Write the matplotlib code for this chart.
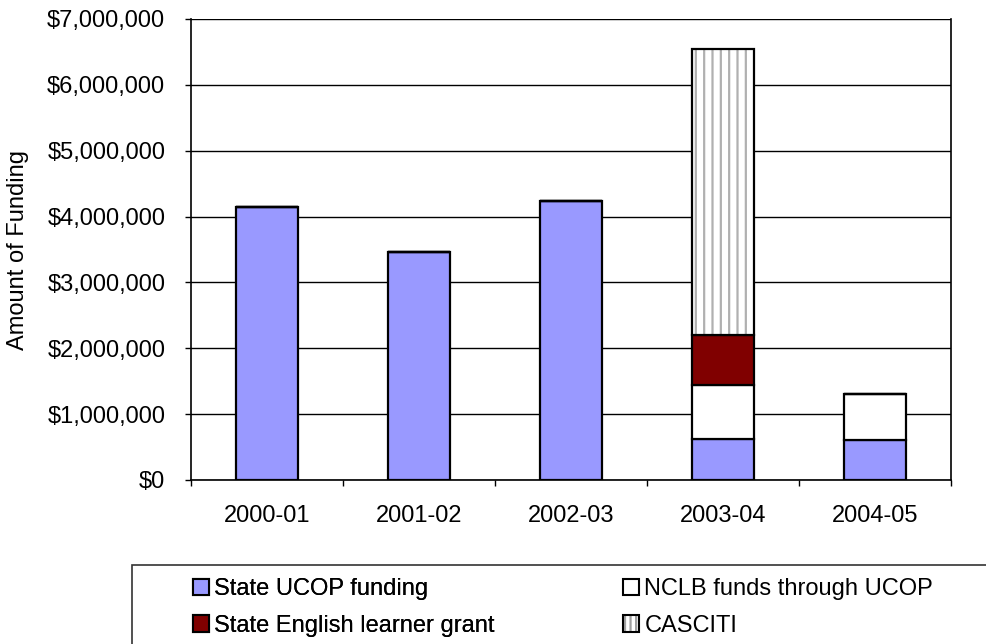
import matplotlib
matplotlib.use("Agg")
import matplotlib.pyplot as plt
from matplotlib.patches import Rectangle, Patch
from matplotlib.ticker import FuncFormatter, FixedLocator

plt.rcParams['font.family'] = ['Liberation Sans', 'DejaVu Sans']

years = ["2000-01", "2001-02", "2002-03", "2003-04", "2004-05"]
state_ucop = [4150000, 3460000, 4240000, 630000, 600000]
nclb = [0, 0, 0, 820000, 700000]
state_el = [0, 0, 0, 750000, 0]
casciti = [0, 0, 0, 4350000, 0]

FS = 17
W, H = 986, 644
fig = plt.figure(figsize=(9.86, 6.44), dpi=100)
ax = fig.add_axes([191/W, 1-480/H, (951-191)/W, (480-19)/H])

x = list(range(len(years)))
w = 0.41
lw = 1.6
ax.bar(x, state_ucop, w, color='#9999ff', edgecolor='black', linewidth=lw, zorder=3)
bottom2 = state_ucop
ax.bar(x, nclb, w, bottom=bottom2, color='white', edgecolor='black', linewidth=lw, zorder=3)
bottom3 = [a + b for a, b in zip(state_ucop, nclb)]
ax.bar(x, state_el, w, bottom=bottom3, color='#800000', edgecolor='black', linewidth=lw, zorder=3)
bottom4 = [a + b for a, b in zip(bottom3, state_el)]
plt.rcParams['hatch.linewidth'] = 1.6
ax.bar(x, casciti, w, bottom=bottom4, color='white', edgecolor='#b0b0b0', hatch='||', linewidth=0, zorder=3)
ax.bar(x, casciti, w, bottom=bottom4, fill=False, edgecolor='black', linewidth=lw, zorder=4)

ax.set_xlim(-0.5, 4.5)
ax.set_ylim(0, 7000000)
ax.set_yticks(range(0, 7000001, 1000000))
ax.yaxis.set_major_formatter(FuncFormatter(lambda v, p: f"${int(v):,}"))
ax.yaxis.grid(True, color='black', linewidth=1.0, zorder=0)
ax.set_axisbelow(True)
ax.set_xticks(x)
ax.set_xticklabels(years)
ax.tick_params(axis='x', which='major', length=0, pad=18, labelsize=FS)
ax.xaxis.set_minor_locator(FixedLocator([i + 0.5 for i in range(-1, 5)]))
ax.tick_params(axis='x', which='minor', length=4.5, width=1, direction='out')
ax.tick_params(axis='y', length=4.5, width=1, direction='out', labelsize=FS, pad=14)
ax.spines['top'].set_visible(False)
for s in ['left', 'bottom', 'right']:
    ax.spines[s].set_linewidth(1.2)

fig.text(18/W, 1 - 250/H, "Amount of Funding", rotation=90, ha='center', va='center', fontsize=FS)

# legend frame (box extends past the right and bottom figure edges)
fig.add_artist(Rectangle((132/W, -0.2), 1.0, (644 - 565)/H + 0.2, transform=fig.transFigure,
                         fill=False, edgecolor='#333333', linewidth=1.2))

h1 = Patch(facecolor='#9999ff', edgecolor='black', linewidth=1.5)
h2 = Patch(facecolor='white', edgecolor='black', linewidth=1.5)
h3 = Patch(facecolor='#800000', edgecolor='black', linewidth=1.5)
h4a = Patch(facecolor='white', edgecolor='#a0a0a0', hatch='|||', linewidth=0)
h4b = Patch(fill=False, edgecolor='black', linewidth=1.5)

common = dict(loc='upper left', frameon=False, fontsize=FS, handlelength=0.68, handleheight=0.68,
              handletextpad=0.22, labelspacing=0.63, borderaxespad=0, borderpad=0)
leg1 = fig.legend([h1, h3], ["State UCOP funding", "State English learner grant"],
                  bbox_to_anchor=(193/W, 1 - 578/H), **common)
fig.add_artist(leg1)
leg2 = fig.legend([h2, (h4a, h4b)], ["NCLB funds through UCOP", "CASCITI"],
                  bbox_to_anchor=(623/W, 1 - 578/H), **common)

fig.savefig("out.png", dpi=100)
